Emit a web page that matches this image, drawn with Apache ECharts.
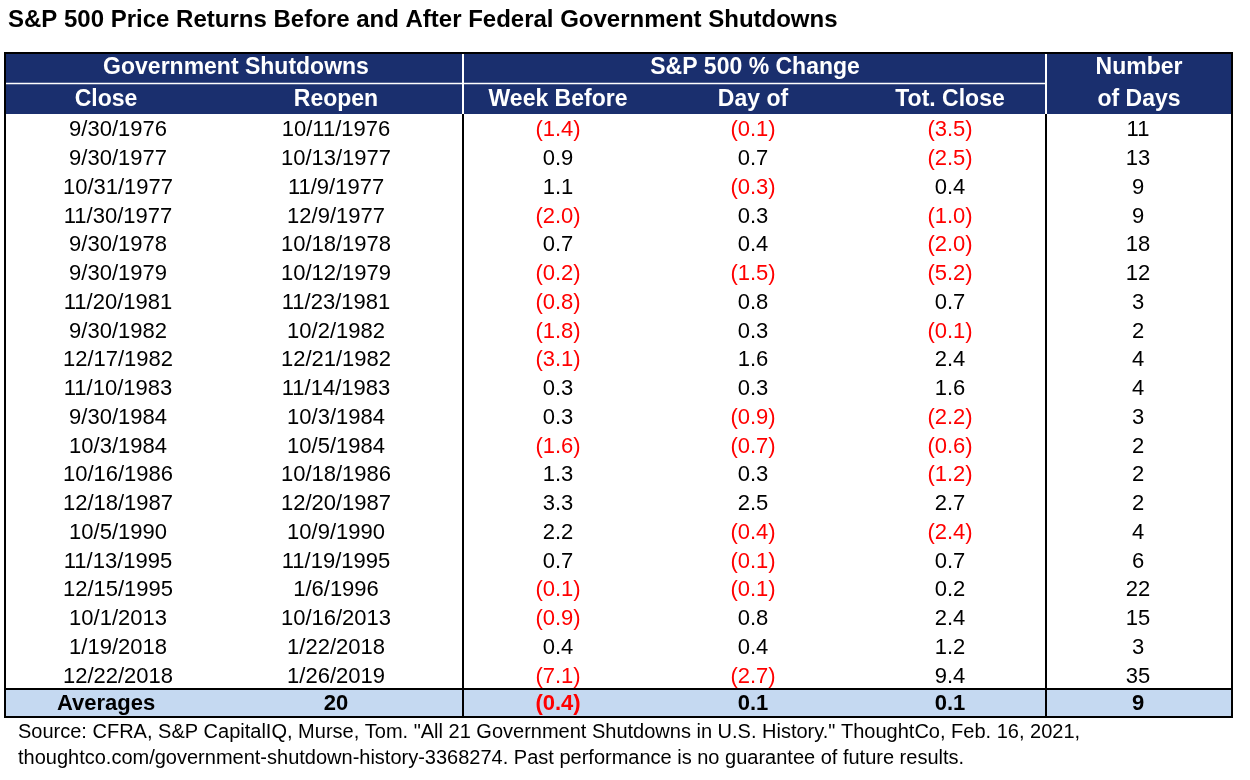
<!DOCTYPE html>
<html>
<head>
<meta charset="utf-8">
<script src="https://cdn.jsdelivr.net/npm/echarts@6/dist/echarts.min.js"></script>
<style>
  html, body { margin: 0; padding: 0; background: #fff; }
  #chart { width: 1250px; height: 780px; }
</style>
</head>
<body>
<div id="chart"></div>
<script>
// table data
const closeDates = ['9/30/1976', '9/30/1977', '10/31/1977', '11/30/1977', '9/30/1978', '9/30/1979', '11/20/1981', '9/30/1982', '12/17/1982', '11/10/1983', '9/30/1984', '10/3/1984', '10/16/1986', '12/18/1987', '10/5/1990', '11/13/1995', '12/15/1995', '10/1/2013', '1/19/2018', '12/22/2018'];
const reopenDates = ['10/11/1976', '10/13/1977', '11/9/1977', '12/9/1977', '10/18/1978', '10/12/1979', '11/23/1981', '10/2/1982', '12/21/1982', '11/14/1983', '10/3/1984', '10/5/1984', '10/18/1986', '12/20/1987', '10/9/1990', '11/19/1995', '1/6/1996', '10/16/2013', '1/22/2018', '1/26/2019'];
const weekBefore = [-1.4, 0.9, 1.1, -2.0, 0.7, -0.2, -0.8, -1.8, -3.1, 0.3, 0.3, -1.6, 1.3, 3.3, 2.2, 0.7, -0.1, -0.9, 0.4, -7.1];
const dayOf = [-0.1, 0.7, -0.3, 0.3, 0.4, -1.5, 0.8, 0.3, 1.6, 0.3, -0.9, -0.7, 0.3, 2.5, -0.4, -0.1, -0.1, 0.8, 0.4, -2.7];
const totClose = [-3.5, -2.5, 0.4, -1.0, -2.0, -5.2, 0.7, -0.1, 2.4, 1.6, -2.2, -0.6, -1.2, 2.7, -2.4, 0.7, 0.2, 2.4, 1.2, 9.4];
const numDays = [11, 13, 9, 9, 18, 12, 3, 2, 4, 4, 3, 2, 2, 2, 4, 6, 22, 15, 3, 35];
const averages = ['Averages', '20', -0.4, 0.1, 0.1, '9'];

const colCenters = [118, 336, 558, 753, 950, 1138];
const NAVY = '#1a2f6e';
const RED = '#ff0000';
const FONT = '"Liberation Sans", Arial, sans-serif';

function fmtPct(v) {
    return v < 0 ? '(' + Math.abs(v).toFixed(1) + ')' : v.toFixed(1);
}

const cells = [];
closeDates.forEach((d, i) => {
    const row = [d, reopenDates[i], weekBefore[i], dayOf[i], totClose[i], String(numDays[i])];
    row.forEach((v, c) => {
        cells.push([c, i, typeof v === 'number' ? fmtPct(v) : v, typeof v === 'number' && v < 0 ? 1 : 0]);
    });
});

const chart = echarts.init(document.getElementById('chart'));

const L = 5, R = 1232, T = 53, HR = 30, dataTop = 114, rowH = 28.75;
const dataBottom = dataTop + rowH * 20;
const avgBottom = dataBottom + 28;
const sep1 = 463, sep2 = 1046;

const graphics = [
    { type: 'text', left: 8, top: 8, style: { text: 'S&P 500 Price Returns Before and After Federal Government Shutdowns', font: 'bold 24px ' + FONT, fill: '#000' } },
    { type: 'rect', shape: { x: L, y: T, width: R - L, height: dataTop - T }, style: { fill: NAVY } },
    { type: 'line', shape: { x1: sep1, y1: T, x2: sep1, y2: dataTop }, style: { stroke: '#fff', lineWidth: 2 } },
    { type: 'line', shape: { x1: sep2, y1: T, x2: sep2, y2: dataTop }, style: { stroke: '#fff', lineWidth: 2 } },
    { type: 'line', shape: { x1: L, y1: T + HR + 0.5, x2: sep2, y2: T + HR + 0.5 }, style: { stroke: '#fff', lineWidth: 1.5 } },
    { type: 'rect', shape: { x: L, y: dataBottom, width: R - L, height: avgBottom - dataBottom }, style: { fill: '#c5d9f1' } }
];

function headText(t, x, y) {
    graphics.push({ type: 'text', x: x, y: y, style: { text: t, font: 'bold 23px ' + FONT, fill: '#fff', align: 'center', verticalAlign: 'middle' } });
}
headText('Government Shutdowns', 236, T + 15);
headText('S&P 500 % Change', 755, T + 15);
headText('Number', 1139, T + 15);
headText('Close', 106, T + 47);
headText('Reopen', colCenters[1], T + 47);
headText('Week Before', colCenters[2], T + 47);
headText('Day of', colCenters[3], T + 47);
headText('Tot. Close', colCenters[4], T + 47);
headText('of Days', 1139, T + 47);

averages.forEach((v, c) => {
    const neg = typeof v === 'number' && v < 0;
    graphics.push({ type: 'text', x: c === 0 ? 106 : colCenters[c], y: (dataBottom + avgBottom) / 2 + 1, style: { text: typeof v === 'number' ? fmtPct(v) : v, font: 'bold 22px ' + FONT, fill: neg ? RED : '#000', align: 'center', verticalAlign: 'middle' } });
});

// borders
graphics.push(
    { type: 'rect', shape: { x: L, y: T, width: R - L, height: avgBottom - T }, style: { fill: 'none', stroke: '#000', lineWidth: 2 } },
    { type: 'line', shape: { x1: sep1, y1: dataTop, x2: sep1, y2: avgBottom }, style: { stroke: '#000', lineWidth: 2 } },
    { type: 'line', shape: { x1: sep2, y1: dataTop, x2: sep2, y2: avgBottom }, style: { stroke: '#000', lineWidth: 2 } },
    { type: 'line', shape: { x1: L, y1: dataBottom, x2: R, y2: dataBottom }, style: { stroke: '#000', lineWidth: 2 } },
    { type: 'text', left: 18, top: 719, style: { text: 'Source: CFRA, S&P CapitalIQ, Murse, Tom. "All 21 Government Shutdowns in U.S. History." ThoughtCo, Feb. 16, 2021,\nthoughtco.com/government-shutdown-history-3368274. Past performance is no guarantee of future results.', font: '20px ' + FONT, fill: '#000', lineHeight: 26 } }
);

const option = {
    animation: false,
    grid: { left: 0, top: dataTop, width: 1250, height: dataBottom - dataTop },
    xAxis: { type: 'value', min: 0, max: 1250, show: false },
    yAxis: { type: 'category', data: closeDates.map((d, i) => i), inverse: true, show: false },
    series: [{
        type: 'custom',
        data: cells,
        renderItem: function (params, api) {
            const col = api.value(0);
            const pt = api.coord([colCenters[col], api.value(1)]);
            return {
                type: 'text',
                x: pt[0],
                y: pt[1] + 2,
                style: {
                    text: cells[params.dataIndex][2],
                    font: '22px ' + FONT,
                    fill: api.value(3) ? RED : '#000',
                    align: 'center',
                    verticalAlign: 'middle'
                }
            };
        }
    }],
    graphic: graphics
};
chart.setOption(option);
</script>
</body>
</html>
